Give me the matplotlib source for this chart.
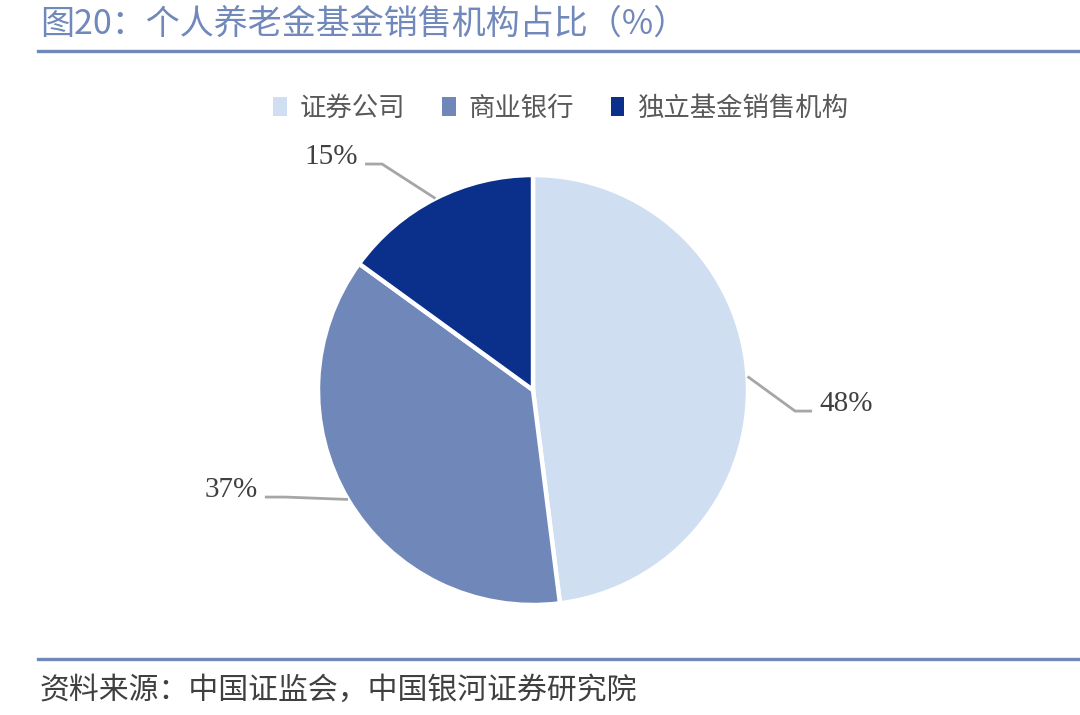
import matplotlib.pyplot as plt
from matplotlib.lines import Line2D
from matplotlib.patches import Patch
import numpy as np

plt.rcParams['font.family'] = ['Noto Sans CJK SC', 'DejaVu Sans']

# data
categories = ["证券公司", "商业银行", "独立基金销售机构"]
shares = [48, 37, 15]
colors = ["#D0DEF1", "#6F87B9", "#0B308C"]

title = "图20：个人养老金基金销售机构占比（%）"
source = "资料来源：中国证监会，中国银河证券研究院"

fig = plt.figure(figsize=(10.8, 7.15), dpi=100)
W, H = 1080, 715

# title and rules
fig.text(40 / W, 1 - 24 / H, title, fontsize=24.5, color="#7088BA", va="center", ha="left")
fig.add_artist(Line2D([38 / W, 1], [1 - 51 / H] * 2, color="#7088BA", lw=2.4))
fig.add_artist(Line2D([38 / W, 1], [1 - 659 / H] * 2, color="#7088BA", lw=2.4))
fig.text(40 / W, 1 - 690 / H, source, fontsize=21.5, color="#404040", va="center", ha="left",
         style="italic")

# pie axes, square, centered at (533, 390) px
cx, cy, r = 533, 390, 215
half = 240
ax = fig.add_axes([(cx - half) / W, (H - cy - half) / H, 2 * half / W, 2 * half / H])

wedges, _ = ax.pie(shares, colors=colors, startangle=90, counterclock=False, radius=1,
                   wedgeprops=dict(edgecolor="white", linewidth=3.2))
lim = half / r
ax.set_xlim(-lim, lim)
ax.set_ylim(-lim, lim)
ax.set_aspect("equal")
ax.axis("off")

# leader lines: elbow point, horizontal end, label anchor (in radius units)
leaders = [
    ((1.219, -0.098), (1.298, -0.098), (1.33, -0.065), "left"),
    ((-1.153, -0.498), (-1.247, -0.498), (-1.279, -0.465), "right"),
    ((-0.702, 1.051), (-0.781, 1.051), (-0.814, 1.084), "right"),
]
for w, val, (elbow, end, lab, ha) in zip(wedges, shares, leaders):
    ang = np.deg2rad((w.theta1 + w.theta2) / 2)
    start = (np.cos(ang), np.sin(ang))
    ax.plot([start[0], elbow[0], end[0]], [start[1], elbow[1], end[1]],
            color="#A6A6A6", lw=2, solid_capstyle="butt", clip_on=False)
    ax.text(lab[0], lab[1], f"{val}%", fontsize=21, color="#404040", ha=ha, va="center",
            family="Liberation Serif")

handles = [Patch(facecolor=c, edgecolor="none") for c in colors]
fig.legend(handles, categories, loc="center", bbox_to_anchor=(561 / W, 1 - 108 / H), ncol=3,
           frameon=False, fontsize=19, labelcolor="#595959", handlelength=0.5,
           handleheight=0.7, handletextpad=0.5, columnspacing=1.4)

fig.savefig("out.png", dpi=100, facecolor="white")
